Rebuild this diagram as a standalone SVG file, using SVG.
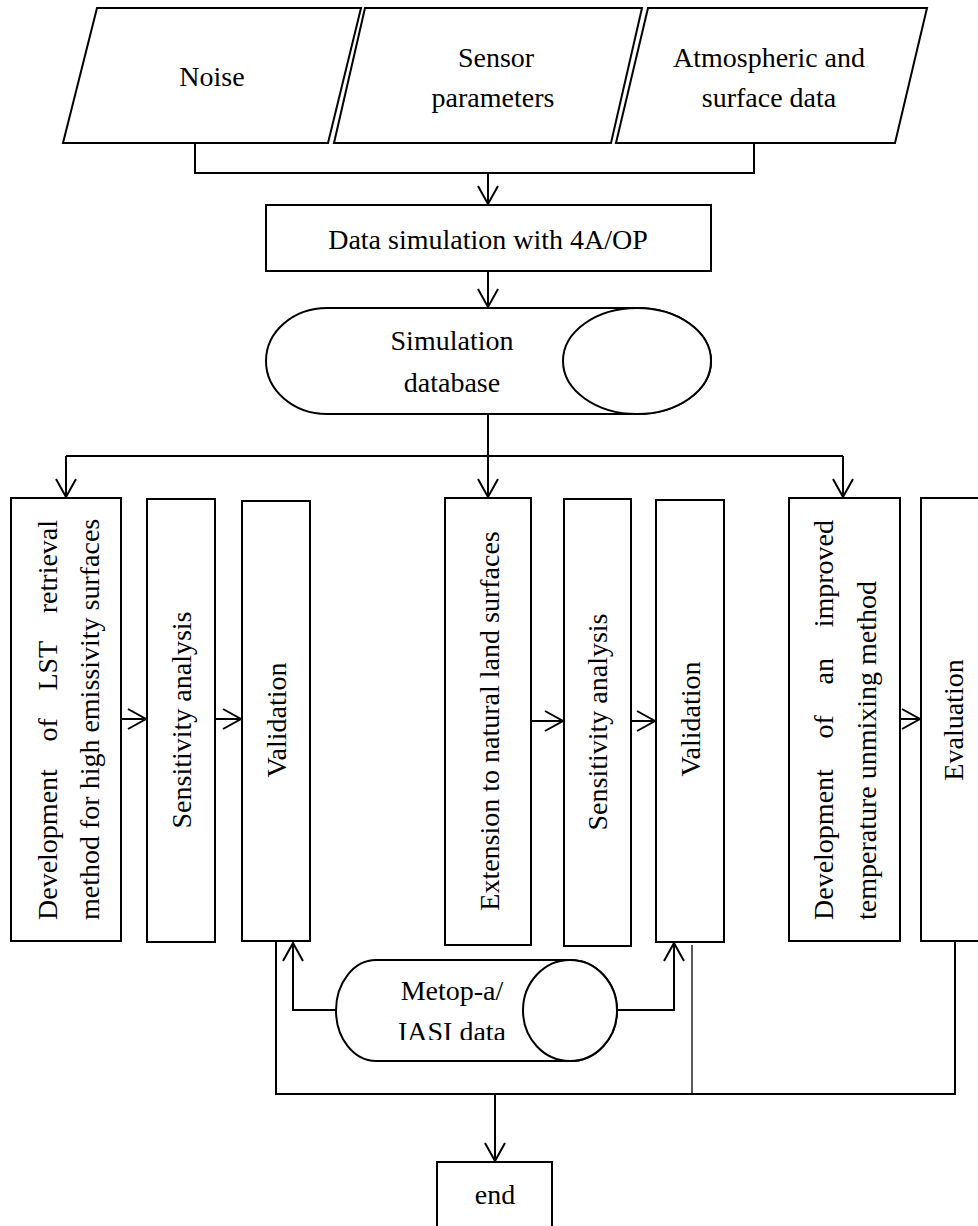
<svg xmlns="http://www.w3.org/2000/svg" width="978" height="1226" viewBox="0 0 978 1226">
<style>
  .shape { fill: #fff; stroke: #000; stroke-width: 2; }
  .conn { fill: none; stroke: #000; stroke-width: 2; }
  .thin { fill: none; stroke: #000; stroke-width: 1.3; }
  text { font-family: "Liberation Serif", "Times New Roman", serif; font-size: 28px; fill: #000; }
  .c { text-anchor: middle; }
</style>
<defs>
  <marker id="arr" markerUnits="userSpaceOnUse" viewBox="-1 -1 21 24" refX="18" refY="10" markerWidth="21" markerHeight="24" orient="auto" overflow="visible">
    <path d="M0,0 L18,10 L0,20" fill="none" stroke="#000" stroke-width="2"/>
  </marker>
  <clipPath id="iasiClip"><rect x="380" y="1000" width="160" height="40"/></clipPath>
</defs>

<g id="connectors">
  <path class="conn" d="M195,143 V173 H754 V143"/>
  <path class="conn" d="M488,173 V204" marker-end="url(#arr)"/>
  <path class="conn" d="M488,271 V307" marker-end="url(#arr)"/>
  <path class="conn" d="M488,414 V456"/>
  <path class="conn" d="M66,456 H843"/>
  <path class="conn" d="M66,456 V497" marker-end="url(#arr)"/>
  <path class="conn" d="M488,456 V497" marker-end="url(#arr)"/>
  <path class="conn" d="M843,456 V497" marker-end="url(#arr)"/>
  <path class="conn" d="M121,719 H146" marker-end="url(#arr)"/>
  <path class="conn" d="M215,719 H241" marker-end="url(#arr)"/>
  <path class="conn" d="M531,721 H563" marker-end="url(#arr)"/>
  <path class="conn" d="M631,721 H655" marker-end="url(#arr)"/>
  <path class="conn" d="M900,719 H920" marker-end="url(#arr)"/>
  <path class="conn" d="M336,1010 H293 V943" marker-end="url(#arr)"/>
  <path class="conn" d="M617,1010 H674 V943" marker-end="url(#arr)"/>
  <path class="conn" d="M276,941 V1094 H955 V941"/>
  <path class="thin" d="M692,945 V1094"/>
  <path class="conn" d="M495,1094 V1161" marker-end="url(#arr)"/>
</g>

<g id="noise">
  <polygon class="shape" points="97,8 361,8 328,143 63,143"/>
  <text class="c" x="212" y="86">Noise</text>
</g>
<g id="sensor">
  <polygon class="shape" points="365,8 642,8 611,143 334,143"/>
  <text class="c" x="496" y="67">Sensor</text>
  <text class="c" x="493" y="107">parameters</text>
</g>
<g id="atmos">
  <polygon class="shape" points="648,8 927,8 895,143 616,143"/>
  <text class="c" x="769" y="67">Atmospheric and</text>
  <text class="c" x="769" y="107">surface data</text>
</g>

<g id="datasim">
  <rect class="shape" x="266" y="205" width="445" height="66"/>
  <text class="c" x="488" y="249">Data simulation with 4A/OP</text>
</g>

<g id="simdb">
  <path class="shape" d="M327,308 L637,308 A74,53 0 0 1 637,414 L327,414 A61,53 0 0 1 327,308 Z"/>
  <ellipse class="shape" cx="637" cy="361" rx="74" ry="53"/>
  <text class="c" x="452" y="350">Simulation</text>
  <text class="c" x="452" y="392">database</text>
</g>

<g id="lst">
  <rect class="shape" x="11" y="498" width="110" height="443"/>
  <text transform="translate(57,920) rotate(-90)"><tspan x="0">Development</tspan><tspan x="178.5">of</tspan><tspan x="229.4">LST</tspan><tspan x="306.8">retrieval</tspan></text>
  <text transform="translate(99,920) rotate(-90)">method for high emissivity surfaces</text>
</g>
<g id="sens1">
  <rect class="shape" x="147" y="499" width="68" height="443"/>
  <text class="c" transform="translate(190.5,720) rotate(-90)">Sensitivity analysis</text>
</g>
<g id="valid1">
  <rect class="shape" x="242" y="501" width="68" height="440"/>
  <text class="c" transform="translate(286,720) rotate(-90)">Validation</text>
</g>

<g id="ext">
  <rect class="shape" x="445" y="498" width="86" height="447"/>
  <text class="c" transform="translate(498.5,721) rotate(-90)">Extension to natural land surfaces</text>
</g>
<g id="sens2">
  <rect class="shape" x="564" y="499" width="67" height="447"/>
  <text class="c" transform="translate(607,722) rotate(-90)">Sensitivity analysis</text>
</g>
<g id="valid2">
  <rect class="shape" x="656" y="500" width="68" height="442"/>
  <text class="c" transform="translate(699.5,719) rotate(-90)">Validation</text>
</g>

<g id="unmix">
  <rect class="shape" x="789" y="498" width="111" height="443"/>
  <text transform="translate(833,920) rotate(-90)"><tspan x="0">Development</tspan><tspan x="181.6">of</tspan><tspan x="235.6">an</tspan><tspan x="292.7">improved</tspan></text>
  <text transform="translate(876,920) rotate(-90)">temperature unmixing method</text>
</g>
<g id="eval">
  <rect class="shape" x="921" y="498" width="70" height="443"/>
  <text class="c" transform="translate(963,720) rotate(-90)">Evaluation</text>
</g>

<g id="metop">
  <path class="shape" d="M376,960 L570,960 A47,50.5 0 0 1 570,1061 L376,1061 A40,50.5 0 0 1 376,960 Z"/>
  <ellipse class="shape" cx="570" cy="1010.5" rx="47" ry="50.5"/>
  <text class="c" x="452" y="1000">Metop-a/</text>
  <text class="c" x="452" y="1041" clip-path="url(#iasiClip)">IASI data</text>
</g>

<g id="end">
  <rect class="shape" x="437" y="1162" width="115" height="70"/>
  <text class="c" x="495" y="1204">end</text>
</g>
</svg>
